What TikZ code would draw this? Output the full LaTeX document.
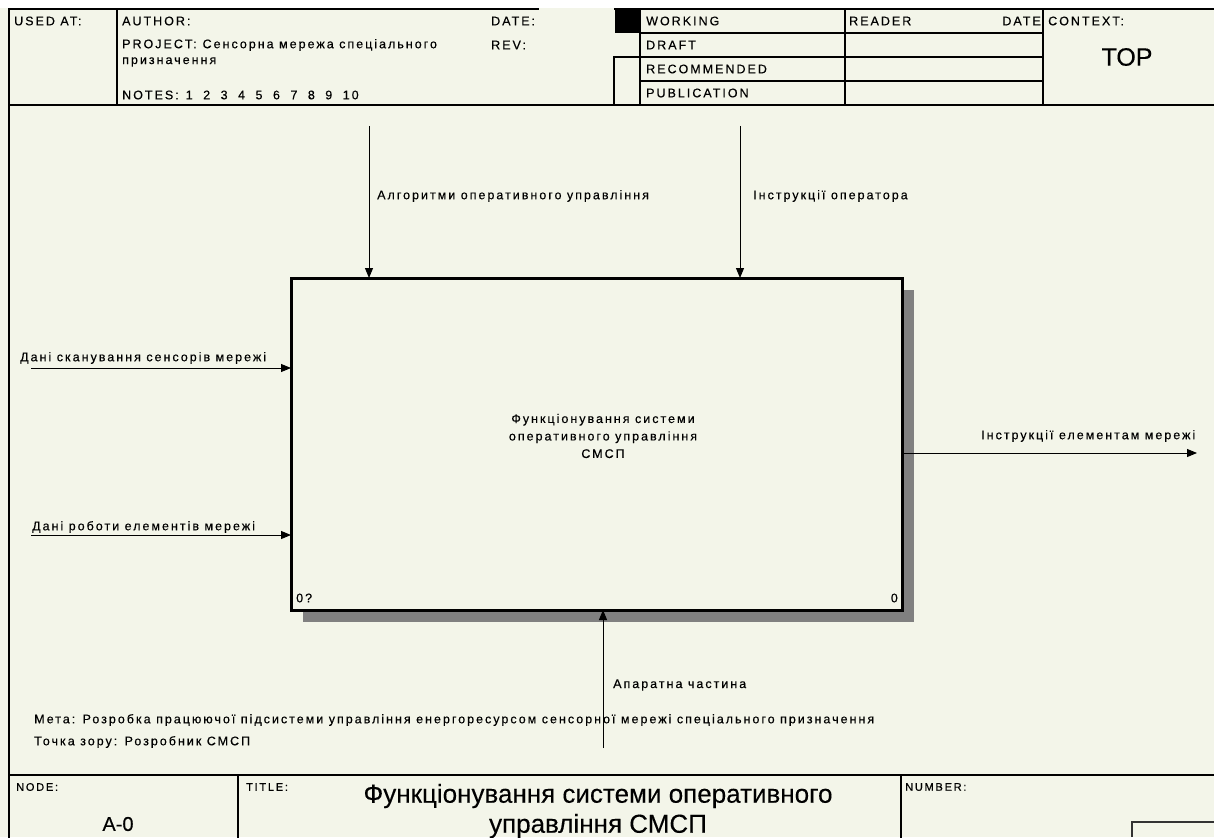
\documentclass[tikz,border=0pt]{standalone}
\usepackage{fontspec}
\setmainfont{Liberation Sans}
\newfontfamily\spaced[LetterSpace=16,FakeBold=0.35]{Liberation Sans}
\newfontfamily\heavy[FakeBold=0.2]{Liberation Sans}
\usetikzlibrary{arrows.meta,shadows}

\definecolor{paper}{RGB}{243,245,233}

\tikzset{
  txt/.style={font=\spaced\fontsize{12.5}{17.5}\selectfont, inner sep=0pt, anchor=west},
  tiny/.style={font=\spaced\fontsize{11}{12}\selectfont, inner sep=0pt, anchor=west},
  frame/.style={line width=1.5pt, line cap=rect},
  arr/.style={line width=1pt, -{Triangle[length=10pt,width=8pt]}},
  func/.style={draw, line width=3pt, fill=paper, inner sep=0pt,
    minimum width=611pt, minimum height=332pt, outer sep=0pt,
    general shadow={fill=black!50, shadow xshift=12pt, shadow yshift=-12pt}},
}

\begin{document}
\begin{tikzpicture}[x=1pt,y=-1pt]
\useasboundingbox (0,0) rectangle (1214,837);
\fill[paper] (0,0) rectangle (1214,837);
\fill[white] (0,0) rectangle (1214,8.5);

% ---------- header ----------
\draw[frame] (9,837) -- (9,9) -- (538,9);
\draw[frame] (117,9) -- (117,105);
\draw[frame] (9,105) -- (1214,105);
\draw[frame] (615,9) -- (1214,9);
\fill (615,9) rectangle (640,33);
\draw[frame] (640,9) -- (640,105);
\draw[frame] (845,9) -- (845,105);
\draw[frame] (1043,9) -- (1043,105);
\draw[frame] (640,33) -- (1043,33);
\draw[frame] (614,57) -- (1043,57);
\draw[frame] (640,81) -- (1043,81);
\draw[frame] (614,57) -- (614,105);

\node[txt] (usedat) at (14,21) {USED AT:};
\node[txt] (author) at (122,21) {AUTHOR:};
\node[txt] (date1) at (491,21) {DATE:};
\node[txt] (rev) at (491,45) {REV:};
\node[txt] (project) at (122,45) {PROJECT:\hspace{6pt}Сенсорна мережа спеціального};
\node[txt] (project2) at (122,62) {призначення};
\node[txt] (notes) at (122,95) {NOTES:\hspace{7pt}1\hspace{10.5pt}2\hspace{10.5pt}3\hspace{10.5pt}4\hspace{10.5pt}5\hspace{10.5pt}6\hspace{10.5pt}7\hspace{10.5pt}8\hspace{10.5pt}9\hspace{10.5pt}10};
\node[txt] (working) at (646,21) {WORKING};
\node[txt] (draft) at (646,45) {DRAFT};
\node[txt] (recom) at (646,69) {RECOMMENDED};
\node[txt] (publ) at (646,93) {PUBLICATION};
\node[txt] (reader) at (849,21) {READER};
\node[txt, anchor=east] (date2) at (1041,21) {DATE};
\node[txt] (context) at (1048,21) {CONTEXT:};
\node[inner sep=0pt, font=\heavy\fontsize{25}{28}\selectfont] (top) at (1127,57) {TOP};

% ---------- function box ----------
\node[func] (box) at (596.5,444) {};
\node[inner sep=0pt, align=center, font=\spaced\fontsize{12.5}{17.5}\selectfont] (boxlbl) at (603,436)
  {Функціонування системи\\оперативного управління\\СМСП};
\node[txt] (tagl) at (296,598) {0?};
\node[txt, anchor=east] (tagr) at (898,598) {0};

% controls
\coordinate (c1) at (369,126);
\coordinate (c2) at (740,126);
\draw[arr] (c1) -- (c1 |- box.north);
\draw[arr] (c2) -- (c2 |- box.north);
\node[txt] (lc1) at (377,196) {Алгоритми оперативного управління};
\node[txt] (lc2) at (753,196) {Інструкції оператора};

% inputs
\coordinate (i1) at (31,368);
\coordinate (i2) at (31,535);
\draw[arr] (i1) -- (i1 -| box.west);
\draw[arr] (i2) -- (i2 -| box.west);
\node[txt] (li1) at (20,358) {Дані сканування сенсорів мережі};
\node[txt] (li2) at (32,527) {Дані роботи елементів мережі};

% output
\coordinate (o1) at (1197,453);
\draw[arr] (o1 -| box.east) -- (o1);
\node[txt] (lo1) at (981,436) {Інструкції елементам мережі};

% mechanism
\coordinate (m1) at (603,748);
\draw[arr] (m1) -- (m1 |- box.south);
\node[txt] (lm1) at (613,685) {Апаратна частина};

% purpose and viewpoint
\node[txt] (purpose) at (34,720) {Мета: Розробка працюючої підсистеми управління енергоресурсом сенсорної мережі спеціального призначення};
\node[txt] (viewpoint) at (34,742) {Точка зору: Розробник СМСП};

% ---------- footer ----------
\draw[frame] (9,775) -- (1214,775);
\draw[frame] (238,775) -- (238,837);
\draw[frame] (901,775) -- (901,837);
\node[tiny] (nodelbl) at (16,787) {NODE:};
\node[tiny] (titlelbl) at (246,787) {TITLE:};
\node[tiny] (numlbl) at (905,787) {NUMBER:};
\node[inner sep=0pt, font=\heavy\fontsize{20}{24}\selectfont] (nodeid) at (118,824) {A-0};
\node[inner sep=0pt, align=center, font=\heavy\fontsize{26}{30}\selectfont] (title) at (598,811)
  {Функціонування системи оперативного\\управління СМСП};
\draw[line width=1.8pt, black!80] (1132,837) -- (1132,822) -- (1214,822);
\end{tikzpicture}
\end{document}
